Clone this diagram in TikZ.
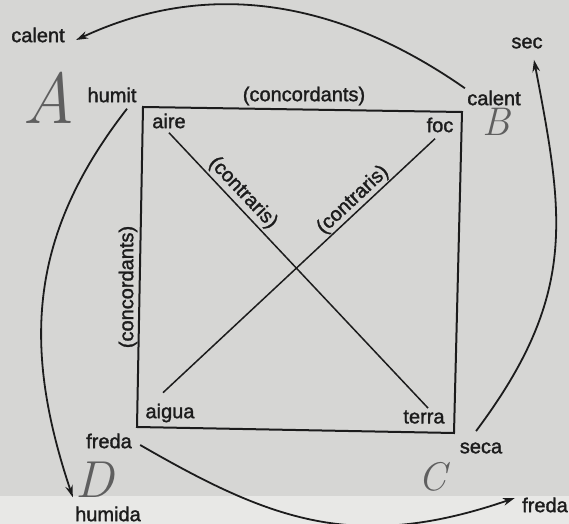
\documentclass[tikz,border=0pt]{standalone}
\usepackage{fontspec}
\setsansfont{Liberation Sans}[FakeBold=1.5]
\usetikzlibrary{positioning, arrows.meta}

\definecolor{scan}{RGB}{214,214,212}
\definecolor{scanlow}{RGB}{232,232,230}
\definecolor{ink}{RGB}{28,28,28}
\definecolor{pencil}{RGB}{95,95,95}

\begin{document}
\begin{tikzpicture}[
    x=0.5pt, y=-0.5pt,
    term/.style={
        inner sep=1pt,
        text=ink,
        font=\sffamily\fontsize{10}{12}\selectfont
    },
    hand/.style={
        inner sep=0pt,
        text=pencil
    },
    side/.style={draw=ink, line width=1pt},
    diag/.style={draw=ink, line width=0.75pt},
    edge/.style={draw=ink, line width=0.9pt, -{Stealth[length=6pt, width=3.8pt]}}
]

% scanned page
\fill[scan] (0,0) rectangle (569,496);
\fill[scanlow] (0,496) rectangle (569,524);
\useasboundingbox (0,0) rectangle (569,524);

% elements
\node[term] (aire) at (169,121) {aire};
\node[term] (foc) at (440,125) {foc};
\node[term] (aigua) at (170,413) {aigua};
\node[term] (terra) at (424,417) {terra};

% qualities
\node[term] (calentA) at (38,35) {calent};
\node[term] (calentB) at (494,98) {calent};
\node[term] (humit) at (112,95) {humit};
\node[term] (sec) at (527,43) {sec};
\node[term] (fredaL) at (109,441) {freda};
\node[term] (humida) at (108,514) {humida};
\node[term] (seca) at (481,448) {seca};
\node[term] (fredaR) at (545,505) {freda};

% relations
\node[term] (concTop) at (304,96) {(concordants)};
\node[term, rotate=90] (concLeft) at (128,287) {(concordants)};
\node[term, rotate=-46.7] (contrA) at (243,193) {(contraris)};
\node[term, rotate=43.2] (contrB) at (353,200) {(contraris)};

% pencil marks
\node[hand, font=\rmfamily\itshape\fontsize{36}{36}\selectfont] (letA) at (49,98) {A};
\node[hand, font=\rmfamily\itshape\fontsize{20}{20}\selectfont] (letB) at (496,122) {B};
\node[hand, font=\rmfamily\itshape\fontsize{20}{20}\selectfont] (letC) at (432,477) {C};
\node[hand, font=\rmfamily\itshape\fontsize{26}{26}\selectfont] (letD) at (95,480) {D};

\draw[side] (143,107) -- (462,112) -- (454,433) -- (137,427) -- cycle;

\draw[diag] ([yshift=-1pt]aire.south) -- ([xshift=2pt]terra.north);
\draw[diag] ([xshift=-2.5pt,yshift=-2pt]foc.south) -- ([xshift=-3.5pt,yshift=4.3pt]aigua.north);

\draw[edge] (calentB.north west) .. controls +(-123,-86) and +(135,-63) .. ([xshift=4.5pt,yshift=-2.5pt]calentA.east);
\draw[edge] ([xshift=-2.5pt,yshift=4.5pt]seca.north) .. controls +(102,-136) and +(30,157) .. ([xshift=3.5pt,yshift=-4.5pt]sec.south);
\draw[edge] ([xshift=7.5pt,yshift=-2pt]humit.south) .. controls +(-98,126) and +(-51,-152) .. ([yshift=3.5pt]humida.north west);
\draw[edge] ([xshift=3pt,yshift=-2pt]fredaL.east) .. controls +(130,75) and +(-160,55) .. ([xshift=-2.5pt,yshift=3.5pt]fredaR.west);

\end{tikzpicture}
\end{document}
